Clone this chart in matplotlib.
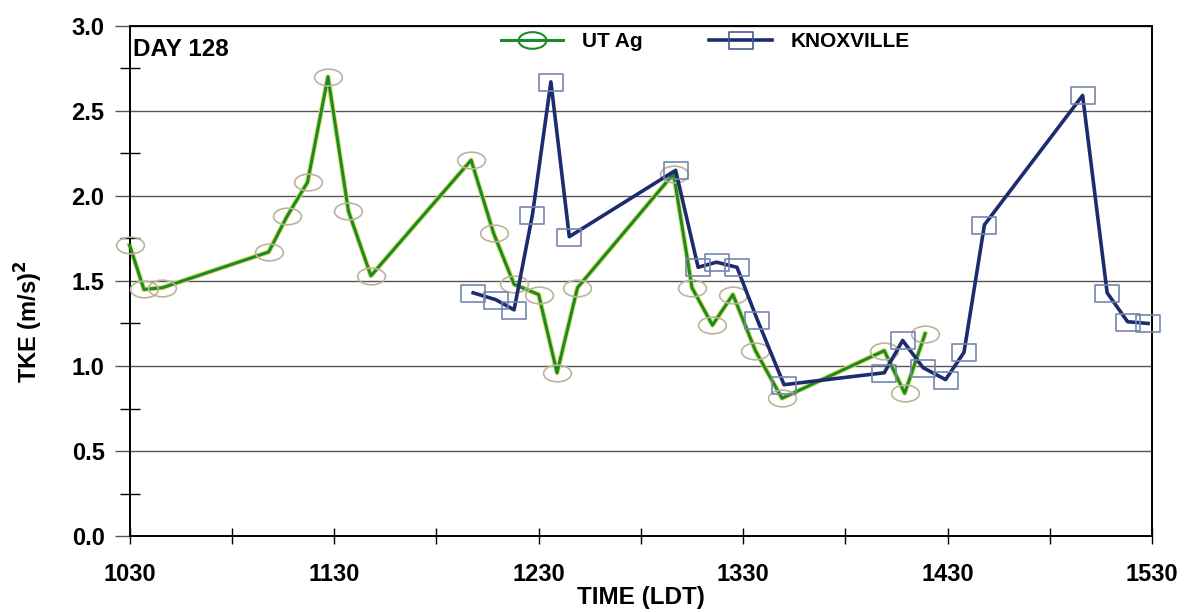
import numpy as np
import matplotlib.pyplot as plt
from matplotlib.path import Path
from matplotlib.lines import Line2D
from matplotlib.ticker import FixedLocator, MultipleLocator, FuncFormatter

plt.rcParams['font.family'] = ['Liberation Sans', 'DejaVu Sans']
plt.rcParams['font.weight'] = 'bold'

# time in decimal hours (LDT)
utag_t = [10.50, 10.57, 10.66, 11.18, 11.27, 11.37, 11.47, 11.57, 11.68,
          12.17, 12.28, 12.38, 12.50, 12.59, 12.69, 13.16, 13.25, 13.35,
          13.45, 13.56, 13.69, 14.19, 14.29, 14.39]
utag_tke = [1.71, 1.45, 1.46, 1.67, 1.88, 2.08, 2.70, 1.91, 1.53,
            2.21, 1.78, 1.48, 1.42, 0.96, 1.46, 2.13, 1.46, 1.24,
            1.42, 1.09, 0.81, 1.09, 0.84, 1.19]

knox_t = [12.18, 12.29, 12.38, 12.47, 12.56, 12.65, 13.17, 13.28, 13.37,
          13.47, 13.57, 13.70, 14.19, 14.28, 14.38, 14.49, 14.58, 14.68,
          15.16, 15.28, 15.38, 15.48]
knox_tke = [1.43, 1.39, 1.33, 1.89, 2.67, 1.76, 2.15, 1.58, 1.61,
            1.58, 1.27, 0.89, 0.96, 1.15, 0.99, 0.92, 1.08, 1.83,
            2.59, 1.43, 1.26, 1.25]

hour_ticks = [10.5, 11.5, 12.5, 13.5, 14.5, 15.5]


def hhmm(x, pos=None):
    h = int(x)
    m = int(round((x - h) * 60))
    return f"{h}{m:02d}"


circ = Path.unit_circle()
ellipse = Path(circ.vertices * np.array([1.0, 0.6]), circ.codes)
rect = Path([(-1, -0.72), (1, -0.72), (1, 0.72), (-1, 0.72), (-1, -0.72)],
            [Path.MOVETO, Path.LINETO, Path.LINETO, Path.LINETO, Path.CLOSEPOLY])

green = '#1c8a2a'
navy = '#1d2c6e'

fig = plt.figure(figsize=(11.89, 6.12), dpi=100)
ax = fig.add_axes([0.109, 0.124, 0.86, 0.834])

ax.plot(utag_t, utag_tke, color='#d9df5a', lw=3.6, zorder=2, clip_on=False)
ax.plot(utag_t, utag_tke, color=green, lw=2.2, marker=ellipse, ms=20,
        mfc='none', mec='#b9b59a', mew=1.2, zorder=3, clip_on=False)
ax.plot(knox_t, knox_tke, color=navy, lw=2.6, marker=rect, ms=17,
        mfc='none', mec='#7486ad', mew=1.2, zorder=4, clip_on=False)

ax.set_xlim(10.5, 15.5)
ax.set_ylim(0, 3.0)
ax.xaxis.set_major_locator(FixedLocator(hour_ticks))
ax.xaxis.set_minor_locator(MultipleLocator(0.5))
ax.xaxis.set_major_formatter(FuncFormatter(hhmm))
ax.yaxis.set_major_locator(MultipleLocator(0.5))
ax.yaxis.set_minor_locator(MultipleLocator(0.25))
ax.yaxis.set_major_formatter(FuncFormatter(lambda v, p: f"{v:.1f}"))

ax.grid(axis='y', which='major', color='#555555', lw=1.0)
ax.tick_params(axis='x', which='both', direction='inout', length=11, width=1,
               labelsize=17, pad=14)
ax.tick_params(axis='y', which='major', direction='out', length=11, width=1,
               labelsize=17, pad=7, color='#555555')
ax.tick_params(axis='y', which='minor', direction='inout', length=14, width=1)
for s in ax.spines.values():
    s.set_linewidth(1.4)
for lbl in ax.get_xticklabels() + ax.get_yticklabels():
    lbl.set_fontweight('bold')

ax.set_xlabel('TIME (LDT)', fontsize=17.5, fontweight='bold', labelpad=0)
ax.set_ylabel('TKE (m/s)$^\\mathbf{2}$', fontsize=17, fontweight='bold')
ax.yaxis.set_label_coords(-0.083, 0.42)

ax.text(0.003, 0.953, 'DAY 128', transform=ax.transAxes, fontsize=17.5,
        fontweight='bold', va='center', ha='left')

handles = [
    Line2D([], [], color=green, lw=2.2, marker=ellipse, ms=20, mfc='none',
           mec=green, mew=1.5),
    Line2D([], [], color=navy, lw=2.6, marker=rect, ms=17, mfc='none',
           mec='#4a5c90', mew=1.2),
]
ax.legend(handles, ['UT Ag', 'KNOXVILLE'], loc='center',
          bbox_to_anchor=(0.563, 0.969), ncol=2, frameon=False,
          handlelength=3.0, columnspacing=3.2, handletextpad=0.9,
          prop={'size': 15, 'weight': 'bold'})

fig.savefig('out.png', dpi=100)
